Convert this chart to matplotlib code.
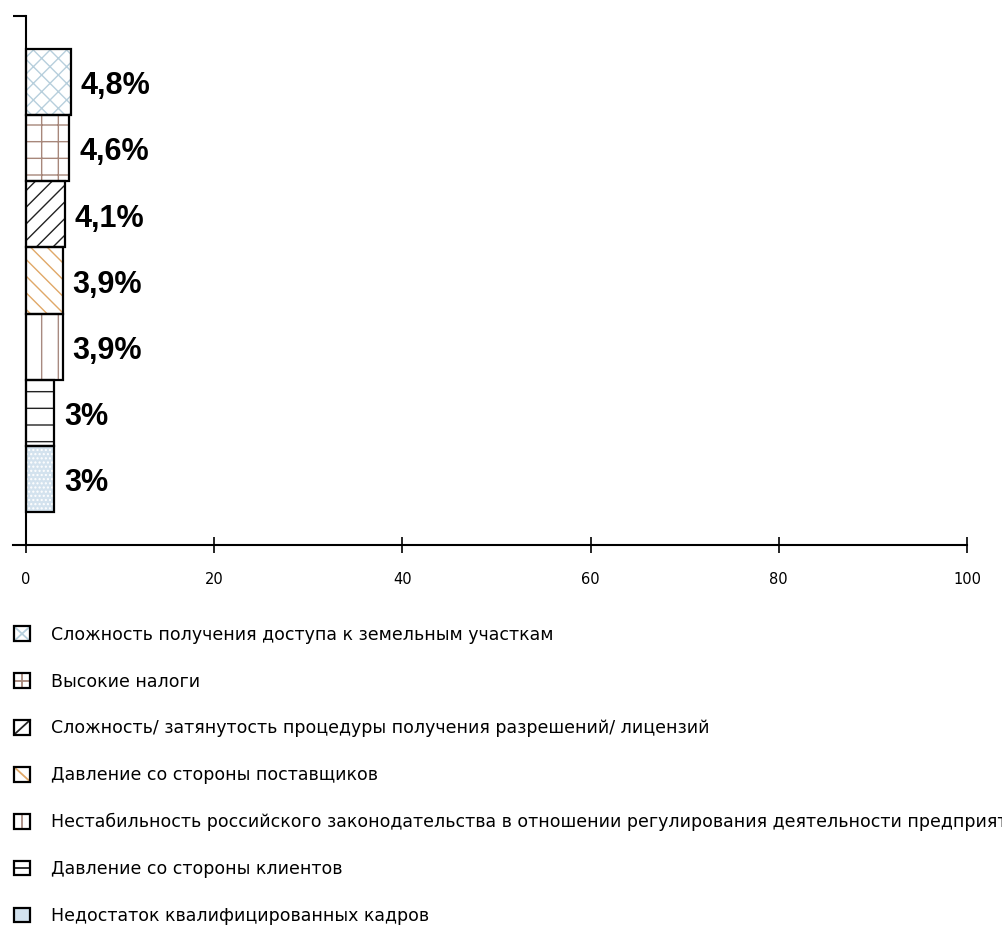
import matplotlib
matplotlib.use("Agg")
import matplotlib.pyplot as plt
from matplotlib.patches import Patch, Rectangle
from matplotlib.lines import Line2D
from matplotlib.legend_handler import HandlerBase

categories = [
    "Сложность получения доступа к земельным участкам",
    "Высокие налоги",
    "Сложность/ затянутость процедуры получения разрешений/ лицензий",
    "Давление со стороны поставщиков",
    "Нестабильность российского законодательства в отношении регулирования деятельности предприятий",
    "Давление со стороны клиентов",
    "Недостаток квалифицированных кадров",
]
values = [4.8, 4.6, 4.1, 3.9, 3.9, 3.0, 3.0]
value_labels = ["4,8%", "4,6%", "4,1%", "3,9%", "3,9%", "3%", "3%"]
xticks = [0, 20, 40, 60, 80, 100]

hatches = ["xx", "+", "//", "\\\\", "|", "-", "...."]
hatch_colors = ["#b7cfdc", "#a7877a", "#222222", "#e0a868", "#a88a80", "#222222", "#ffffff"]
face_colors = ["white", "white", "white", "white", "white", "white", "#d3e2ee"]

plt.rcParams["hatch.linewidth"] = 1.0


class PatternHandler(HandlerBase):
    def create_artists(self, legend, orig_handle, xdescent, ydescent, width,
                       height, fontsize, trans):
        x0, y0 = -xdescent, -ydescent
        x1, y1 = x0 + width, y0 + height
        xm, ym = (x0 + x1) / 2, (y0 + y1) / 2
        h = orig_handle.get_hatch() or ""
        hc = orig_handle.get_edgecolor()
        fc = orig_handle.get_facecolor()
        arts = [Rectangle((x0, y0), width, height, facecolor=fc, edgecolor="none",
                          transform=trans)]
        segs = []
        if "x" in h:
            segs = [((x0, y0), (x1, y1)), ((x0, y1), (x1, y0))]
        elif "+" in h:
            segs = [((xm, y0), (xm, y1)), ((x0, ym), (x1, ym))]
        elif "/" in h:
            segs = [((x0, y0), (x1, y1))]
        elif "\\" in h:
            segs = [((x0, y1), (x1, y0))]
        elif "|" in h:
            segs = [((xm, y0), (xm, y1))]
        elif "-" in h:
            segs = [((x0, ym), (x1, ym))]
        for (a, b) in segs:
            arts.append(Line2D([a[0], b[0]], [a[1], b[1]], color=hc, lw=1.3,
                               transform=trans))
        arts.append(Rectangle((x0, y0), width, height, fill=False,
                              edgecolor="black", lw=1.6, transform=trans))
        return arts


fig = plt.figure(figsize=(10.03, 9.27), dpi=100)
ax = fig.add_axes([0.0128, 0.4121, 0.9513, 0.5706])

n = len(values)
ypos = [n - 1 - i for i in range(n)]

ax.barh(ypos, values, height=1.0, color=face_colors, edgecolor=hatch_colors,
        hatch=hatches, linewidth=0)
ax.barh(ypos, values, height=1.0, fill=False, edgecolor="black", linewidth=1.6)

for y, v, lab in zip(ypos, values, value_labels):
    ax.annotate(lab, (v, y), xytext=(7, -3), textcoords="offset points",
                ha="left", va="center", fontsize=22, fontweight="bold",
                family="Liberation Sans", color="black")

ax.set_xlim(-1.4, 100)
ax.set_ylim(-1, 7)
for s in ["top", "right"]:
    ax.spines[s].set_visible(False)
ax.spines["left"].set_position(("data", 0))
ax.spines["left"].set_linewidth(1.5)
ax.spines["bottom"].set_linewidth(1.5)
ax.set_xticks(xticks)
ax.set_xticklabels([str(t) for t in xticks], fontsize=10.5, family="DejaVu Sans")
ax.tick_params(axis="x", direction="inout", length=11, width=1.2, pad=14)
ax.set_yticks([7])
ax.set_yticklabels([""])
ax.tick_params(axis="y", direction="out", length=9.5, width=1.5)

handles = [Patch(facecolor=fc, edgecolor=hc, hatch=h)
           for fc, hc, h in zip(face_colors, hatch_colors, hatches)]

fig.legend(handles, categories, loc="upper left", bbox_to_anchor=(0.014, 0.325),
           frameon=False, prop={"family": "DejaVu Sans", "size": 12.5},
           handlelength=0.92, handleheight=0.92, handletextpad=1.22,
           labelspacing=1.66, borderaxespad=0, borderpad=0,
           handler_map={Patch: PatternHandler()})

fig.savefig("out.png", dpi=100)
